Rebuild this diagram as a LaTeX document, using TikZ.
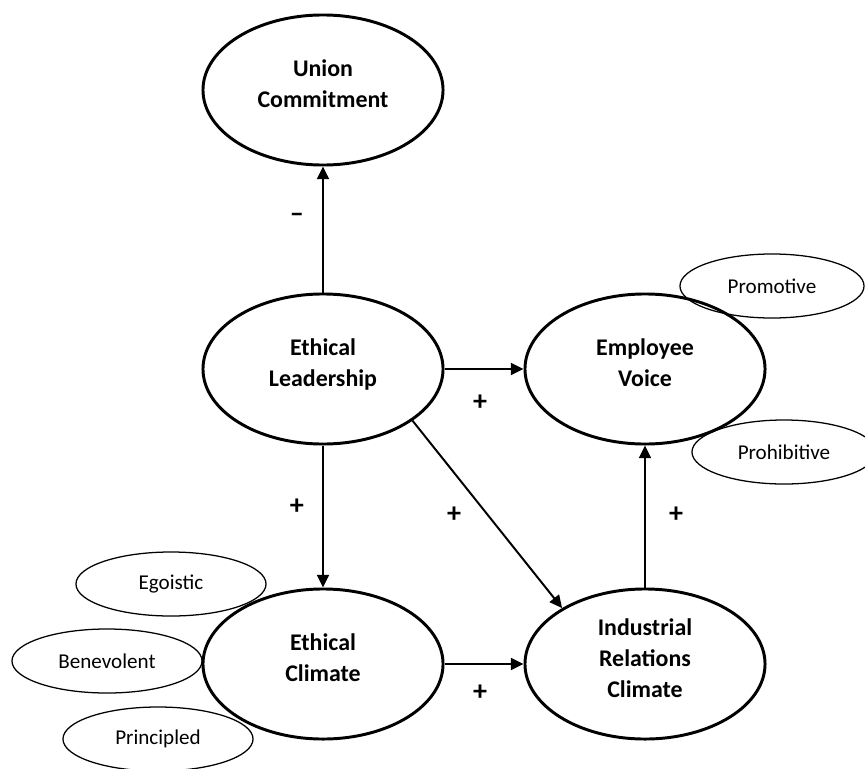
\documentclass[tikz,border=0pt]{standalone}
\usepackage{fontspec}
\setmainfont{Carlito}
\usepackage{tikz}
\usetikzlibrary{arrows.meta,shapes,positioning,calc}

\begin{document}
\begin{tikzpicture}[x=0.025cm, y=-0.025cm,
    construct/.style={ellipse, draw, line width=2.1pt, fill=white, minimum width=6cm, minimum height=3.75cm, inner sep=0pt, text depth=0.3cm, align=center, font=\bfseries\fontsize{17}{22}\selectfont},
    facet/.style={ellipse, draw, line width=0.9pt, minimum width=4.75cm, minimum height=1.6cm, inner sep=0pt, font=\fontsize{15}{18}\selectfont},
    arrow/.style={-{Triangle[length=9pt,width=8.5pt]}, line width=1.4pt},
    sign/.style={font=\bfseries\fontsize{20}{22}\selectfont, inner sep=1pt}
]
    \useasboundingbox (0,0) rectangle (865,768);

    \node[construct] (union) at (323,90) {Union\\Commitment};
    \node[construct] (leader) at (323,369) {Ethical\\Leadership};
    \node[construct] (voice) at (645,369) {Employee\\Voice};
    \node[construct] (climate) at (323,664) {Ethical\\Climate};
    \node[construct] (relations) at (645,664) {Industrial\\Relations\\Climate};

    % dimensions of voice and ethical climate
    \node[facet, minimum width=4.6cm] (promotive) at (772,286) {Promotive};
    \node[facet, minimum width=4.6cm] (prohibitive) at (784,452) {Prohibitive};
    \node[facet] (egoistic) at (171,584) {Egoistic};
    \node[facet] (benevolent) at (107,661) {Benevolent};
    \node[facet] (principled) at (158,739) {Principled};

    \draw[arrow] (leader) -- node[sign, pos=.59, xshift=-0.65cm] {–} (union);
    \draw[arrow] (leader) -- node[sign, pos=.45, yshift=-0.85cm] {+} (voice);
    \draw[arrow] (leader) -- node[sign, pos=.43, xshift=-0.65cm] {+} (climate);
    \draw[arrow] (leader.-30) -- node[sign, pos=.5, xshift=-0.83cm] {+} (relations.146);
    \draw[arrow] (climate) -- node[sign, pos=.45, yshift=-0.72cm] {+} (relations);
    \draw[arrow] (relations) -- node[sign, pos=.51, xshift=0.78cm] {+} (voice);
\end{tikzpicture}
\end{document}
